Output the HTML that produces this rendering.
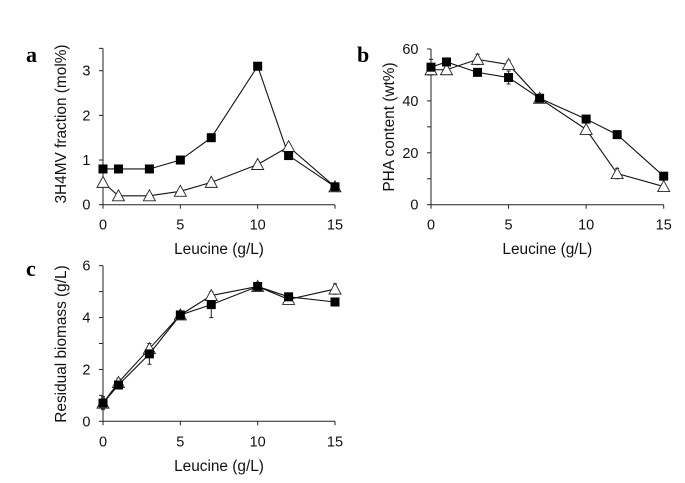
<!DOCTYPE html>
<html>
<head>
<meta charset="utf-8">
<style>
html,body{margin:0;padding:0;background:#fff;width:685px;height:483px;overflow:hidden}
svg{display:block;filter:blur(0.35px)}
text{font-family:"Liberation Sans",sans-serif;font-size:14.5px;fill:#111}
.panel{font-family:"Liberation Serif",serif;font-weight:bold;font-size:22px;fill:#000}
</style>
</head>
<body>
<svg id="fig" width="685" height="483" viewBox="0 0 685 483" xmlns="http://www.w3.org/2000/svg"></svg>
<script>
const leucine = [0, 1, 3, 5, 7, 10, 12, 15];
const xTickLabels = [0, 5, 10, 15];

const aFilled = [0.8, 0.8, 0.8, 1.0, 1.5, 3.1, 1.1, 0.4];
const aOpen = [0.5, 0.2, 0.2, 0.3, 0.5, 0.9, 1.3, 0.4];
const aFilledErr = [0, 0, 0, 0, 0, 0, 0, 0];
const aOpenErr = [0, 0, 0, 0, 0, 0, 0, 0];
const aYTicks = [0, 1, 2, 3];
const aYMinor = [3.5];

const bFilled = [53, 55, 51, 49, 41, 33, 27, 11];
const bOpen = [52, 52, 56, 54, 41, 29, 12, 7];
const bFilledErr = [3, 0, 0, 2.5, 0, 0, 0, 0];
const bOpenErr = [2, 0, 2, 1.5, 0, 0, 2, 0];
const bYTicks = [0, 20, 40, 60];
const bYMinor = [10, 30, 50];

const cFilled = [0.7, 1.4, 2.6, 4.1, 4.5, 5.2, 4.8, 4.6];
const cOpen = [0.7, 1.5, 2.8, 4.1, 4.85, 5.2, 4.7, 5.1];
const cFilledErr = [0.2, 0.1, 0.4, 0.15, 0.5, 0.1, 0.1, 0];
const cOpenErr = [0.25, 0.15, 0.2, 0.1, 0.1, 0.15, 0.1, 0.2];
const cYTicks = [0, 2, 4, 6];
const cYMinor = [1, 3, 5];

const svgNS = 'http://www.w3.org/2000/svg';
const fig = document.getElementById('fig');

function make(parent, tag, attrs, text) {
  const el = document.createElementNS(svgNS, tag);
  for (const k in attrs) el.setAttribute(k, attrs[k]);
  if (text !== undefined) el.textContent = text;
  parent.appendChild(el);
  return el;
}

function drawPanel(cfg) {
  const g = make(fig, 'g', {});
  
  
  const sx = v => cfg.x0 + (v / cfg.xMax) * (cfg.x1 - cfg.x0);
  const sy = v => cfg.y0 - (v / cfg.yMax) * (cfg.y0 - cfg.y1);
  const axisColor = '#222';

  const label = make(g, 'text', { x: cfg.labelX, y: cfg.labelY, class: 'panel' }, cfg.id);
  
  

  const yAxis = make(g, 'line', { x1: cfg.x0, x2: cfg.x0, y1: cfg.y0, y2: sy(cfg.yTop), stroke: axisColor, 'stroke-width': 1 });
  
  
  const xAxis = make(g, 'line', { x1: cfg.x0, x2: sx(cfg.xMax), y1: cfg.y0, y2: cfg.y0, stroke: axisColor, 'stroke-width': 1 });
  
  

  cfg.yTicks.forEach(v => {
    const t = make(g, 'line', { x1: cfg.x0 - 4, x2: cfg.x0, y1: sy(v), y2: sy(v), stroke: axisColor, 'stroke-width': 1 });
    
    
    const l = make(g, 'text', { x: cfg.x0 - 12.5, y: sy(v) + 5, 'text-anchor': 'end' }, v);
    
    
  });
  cfg.yMinor.forEach(v => {
    const t = make(g, 'line', { x1: cfg.x0 - 4, x2: cfg.x0, y1: sy(v), y2: sy(v), stroke: axisColor, 'stroke-width': 1 });
    
    
  });
  xTickLabels.forEach(v => {
    const t = make(g, 'line', { x1: sx(v), x2: sx(v), y1: cfg.y0, y2: cfg.y0 + 4, stroke: axisColor, 'stroke-width': 1 });
    
    
    const l = make(g, 'text', { x: sx(v), y: cfg.y0 + 25, 'text-anchor': 'middle' }, v);
    
    
  });

  const xt = make(g, 'text', { x: (cfg.x0 + sx(cfg.xMax)) / 2, y: cfg.y0 + 49.5, 'text-anchor': 'middle', style: 'font-size:15.4px' }, 'Leucine (g/L)');
  
  
  const yt = make(g, 'text', { x: 0, y: 0, 'text-anchor': 'middle', style: 'font-size:15.4px', transform: 'translate(' + cfg.yTitleX + ' ' + cfg.yTitleY + ') rotate(-90)' }, cfg.yTitle);
  
  

  function errorBars(vals, errs, name) {
    vals.forEach((v, i) => {
      if (!errs[i]) return;
      const x = sx(leucine[i]);
      const d = 'M' + x + ' ' + sy(v + errs[i]) + 'V' + sy(v - errs[i]) +
        'M' + (x - 2) + ' ' + sy(v + errs[i]) + 'H' + (x + 2) +
        'M' + (x - 2) + ' ' + sy(v - errs[i]) + 'H' + (x + 2);
      const e = make(g, 'path', { d: d, stroke: '#222', 'stroke-width': 1, fill: 'none' });
      
      
    });
  }
  function linePath(vals, name) {
    const pts = vals.map((v, i) => sx(leucine[i]) + ',' + sy(v)).join(' ');
    const p = make(g, 'polyline', { points: pts, fill: 'none', stroke: '#111', 'stroke-width': 1.1 });
    
    
  }

  errorBars(cfg.open, cfg.openErr, 'open-series');
  errorBars(cfg.filled, cfg.filledErr, 'filled-series');
  linePath(cfg.open, 'open-series');
  linePath(cfg.filled, 'filled-series');

  cfg.open.forEach((v, i) => {
    const x = sx(leucine[i]), y = sy(v);
    const m = make(g, 'polygon', { points: (x - 6) + ',' + (y + 5) + ' ' + (x + 6) + ',' + (y + 5) + ' ' + x + ',' + (y - 6), fill: '#fff', stroke: '#222', 'stroke-width': 0.9 });
    
    
  });
  cfg.filled.forEach((v, i) => {
    const x = sx(leucine[i]), y = sy(v);
    const m = make(g, 'rect', { x: x - 4.5, y: y - 4.5, width: 9, height: 9, fill: '#000' });
    
    
  });
}

drawPanel({ id: 'a', x0: 103, x1: 335, xMax: 15, y0: 204.7, y1: 70.7, yMax: 3, yTop: 3.5,
  yTicks: aYTicks, yMinor: aYMinor, filled: aFilled, open: aOpen, filledErr: aFilledErr, openErr: aOpenErr,
  yTitle: '3H4MV fraction (mol%)', yTitleX: 66, yTitleY: 124, labelX: 26, labelY: 62 });
drawPanel({ id: 'b', x0: 431, x1: 663.7, xMax: 15, y0: 204.7, y1: 49, yMax: 60, yTop: 60,
  yTicks: bYTicks, yMinor: bYMinor, filled: bFilled, open: bOpen, filledErr: bFilledErr, openErr: bOpenErr,
  yTitle: 'PHA content (wt%)', yTitleX: 394, yTitleY: 127, labelX: 357, labelY: 62 });
drawPanel({ id: 'c', x0: 103, x1: 335, xMax: 15, y0: 421.3, y1: 265.7, yMax: 6, yTop: 6,
  yTicks: cYTicks, yMinor: cYMinor, filled: cFilled, open: cOpen, filledErr: cFilledErr, openErr: cOpenErr,
  yTitle: 'Residual biomass (g/L)', yTitleX: 66, yTitleY: 344, labelX: 26, labelY: 276 });
</script>
</body>
</html>
